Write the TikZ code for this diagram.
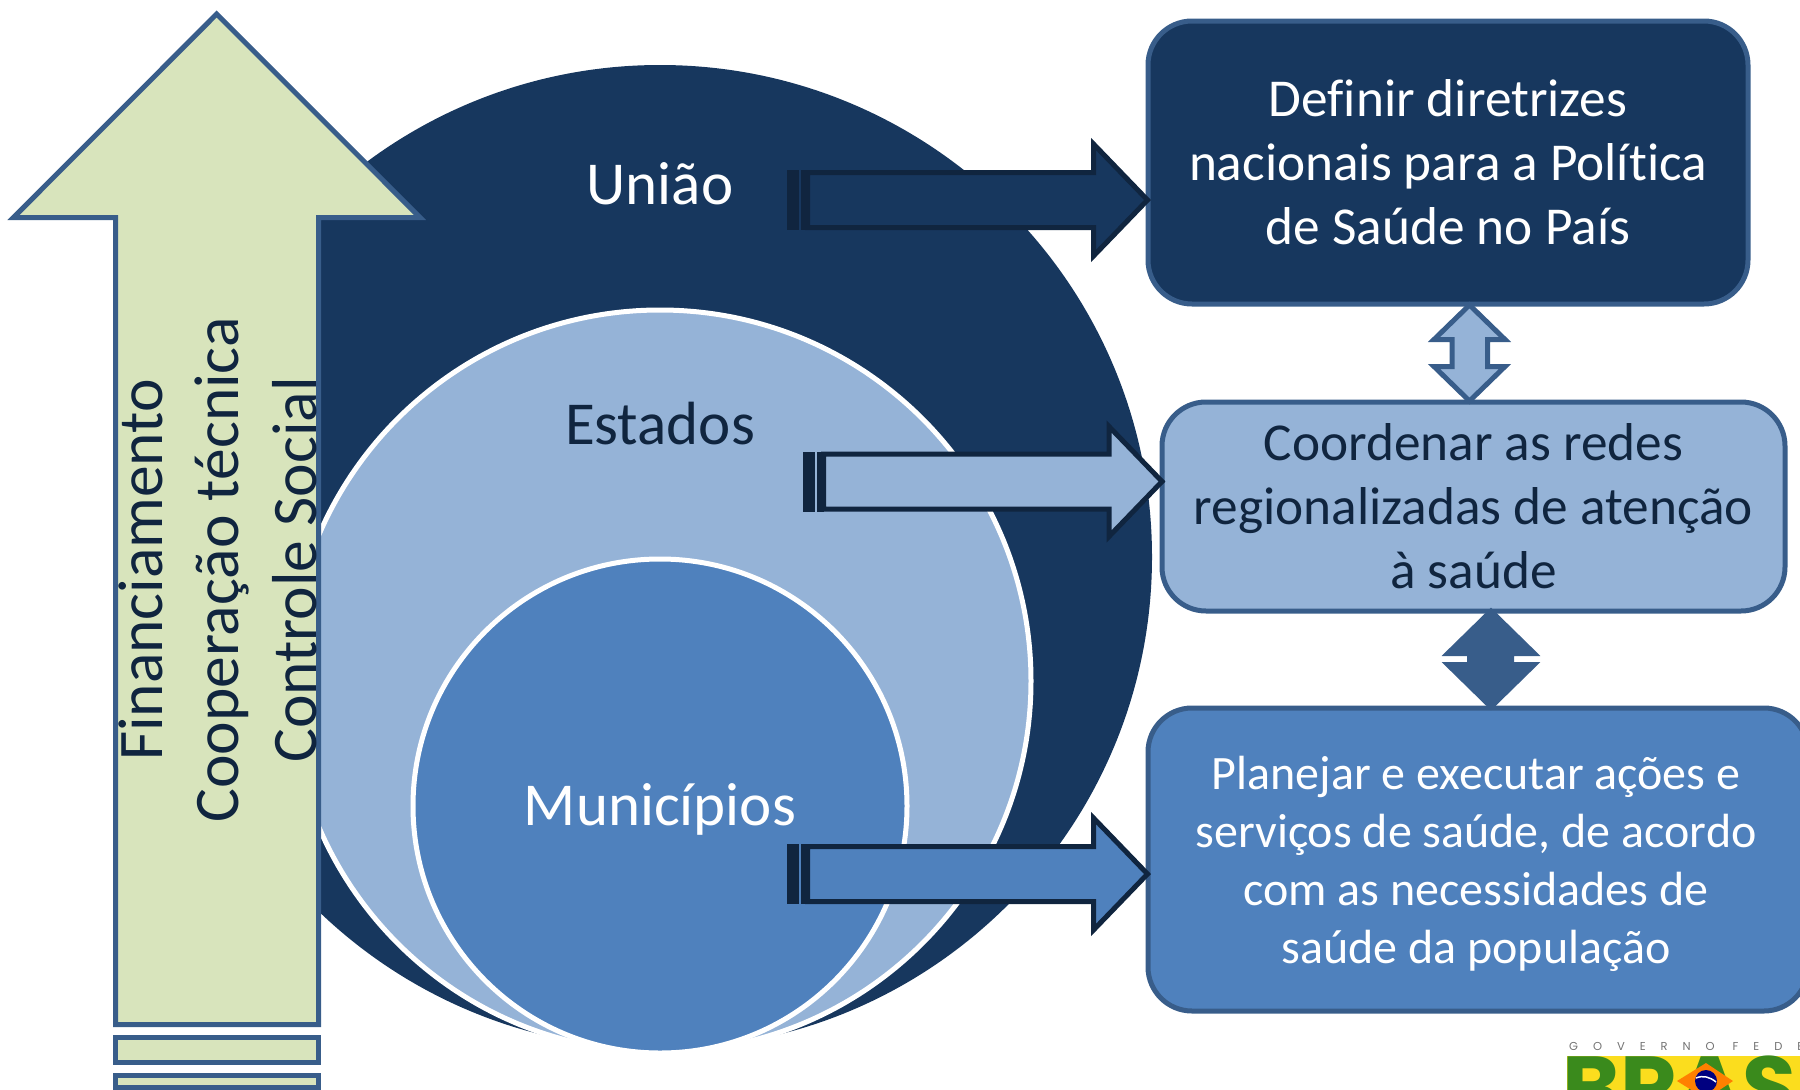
\documentclass[tikz,border=0pt]{standalone}
\usepackage{fontspec}
\setmainfont{Carlito}[Ligatures={NoCommon}]
\newfontfamily\logofont{Poppins}
\definecolor{navy}{HTML}{17375E}
\definecolor{ink}{HTML}{10253F}
\definecolor{pale}{HTML}{95B3D7}
\definecolor{mid}{HTML}{4F81BD}
\definecolor{edge}{HTML}{385D8A}
\definecolor{sage}{HTML}{D8E4BC}
\definecolor{logogreen}{HTML}{3A8A1C}
\definecolor{logoyellow}{HTML}{FBDD1E}
\tikzset{
  disc/.style={circle,inner sep=0pt,draw=white,line width=5pt},
  taskbox/.style={draw=edge,line width=5pt,rounded corners=44pt,inner sep=0pt,align=center},
  big/.style={font=\fontsize{53.3}{64}\selectfont},
  small/.style={font=\fontsize{48}{58}\selectfont},
  level/.style={font=\fontsize{61}{72}\selectfont},
  side/.style={font=\fontsize{63.5}{72}\selectfont,text=ink,rotate=90,anchor=base,inner sep=0pt},
  flow/.style={draw=ink,line width=5pt,miter limit=10},
  link/.style={draw=edge,line width=5pt,miter limit=10},
}
% #1 fill, #2 tip coordinate, #3 tail length, #4 head length, #5 half shaft, #6 half head
\newcommand{\flowarrow}[6]{%
  \draw[flow,fill=#1,shift={(#2)}] (-#3,-#5) -- (-#4,-#5) -- (-#4,-#6) -- (0,0) -- (-#4,#6) -- (-#4,#5) -- (-#3,#5) -- cycle;
  \fill[ink,shift={(#2)}] (-#3-21,-#5-2.5) rectangle (-#3-9,#5+2.5);
  \fill[ink,shift={(#2)}] (-#3-7,-#5-2.5) rectangle (-#3,#5+2.5);
}
\begin{document}
\begin{tikzpicture}[x=1pt,y=-1pt]
\clip (0,0) rectangle (1800,1090);
% nested circles
\node[disc,draw=none,fill=navy,minimum size=984pt] (cu) at (660,557) {};
\node[disc,fill=pale,minimum size=742pt] (ce) at (660,681) {};
\node[disc,fill=mid,minimum size=494pt] (cm) at (660,806) {};
\node[level,text=white] (tu) at (660,184) {União};
\node[level,text=ink] (te) at (660,424) {Estados};
\node[level,text=white] (tm) at (660,809) {Municípios};
% task boxes
\node[taskbox,big,fill=navy,text=white,minimum width=600pt,minimum height=283pt] (bu) at (1448,162.5)
  {Definir diretrizes\\nacionais para a Política\\de Saúde no País};
\node[taskbox,big,fill=pale,text=ink,minimum width=623pt,minimum height=209pt] (be) at (1473.5,506.5)
  {Coordenar as redes\\regionalizadas de atenção\\à saúde};
\node[taskbox,fill=mid,minimum width=660pt,minimum height=303pt] (bm) at (1478,859.5) {};
\node[small,text=white,align=center] (tb) at (1476,864)
  {Planejar e executar ações e\\serviços de saúde, de acordo\\com as necessidades de\\saúde da população};
% flow arrows
\coordinate (tipu) at (1147.5,200);
\coordinate (tipe) at (1162,481.5);
\coordinate (tipm) at (1147.5,874);
\flowarrow{navy}{tipu}{340}{54}{27.5}{56}
\flowarrow{pale}{tipe}{338.5}{53}{27.5}{55}
\flowarrow{mid}{tipm}{340}{54}{27.5}{56}
% double arrows between boxes
\draw[link,fill=pale] (1469.5,305) -- (1505,339.5) -- (1487.5,339.5) -- (1487.5,366.5) -- (1505,366.5) -- (1469.5,401) -- (1434,366.5) -- (1452,366.5) -- (1452,339.5) -- (1434,339.5) -- cycle;
\draw[link,fill=edge,line width=2pt] (1491,609) -- (1538,655) -- (1513,655) -- (1513,663) -- (1538,663) -- (1491,709) -- (1444,663) -- (1468,663) -- (1468,655) -- (1444,655) -- cycle;
% vertical arrow
\draw[link,fill=sage] (216.7,14) -- (420,217.5) -- (318.5,217.5) -- (318.5,1024.5) -- (115.5,1024.5) -- (115.5,217.5) -- (13.5,217.5) -- cycle;
\draw[link,fill=sage] (115.5,1037) rectangle (318.5,1062);
\draw[link,fill=sage] (115.5,1075) rectangle (318.5,1087.5);
\node[side] (s1) at (162,570) {Financiamento};
\node[side] (s2) at (238,570) {Cooperação técnica};
\node[side] (s3) at (316,570) {Controle Social};
% logo
\fill[logoyellow] (1567,1056) rectangle (1800,1090);
\node[anchor=base west,inner sep=0pt,text=black!55,font={\logofont\fontsize{11.5}{13}\selectfont\addfontfeature{LetterSpace=130}}] (lg) at (1569,1050) {GOVERNO FEDE};
\node[anchor=base west,inner sep=0pt,text=logogreen,font={\logofont\bfseries\fontsize{88}{90}\selectfont}] (lb) at (1562,1118) {BRAS};
\fill[orange] (1677,1081) -- (1706,1063) -- (1733,1081) -- (1706,1099) -- cycle;
\node[circle,fill=blue!50!black,minimum size=22pt,inner sep=0pt] (gl) at (1706,1081) {};
\draw[white,line width=1.5pt] (1696,1078) .. controls (1703,1075) and (1710,1077) .. (1716,1082);
\end{tikzpicture}
\end{document}
